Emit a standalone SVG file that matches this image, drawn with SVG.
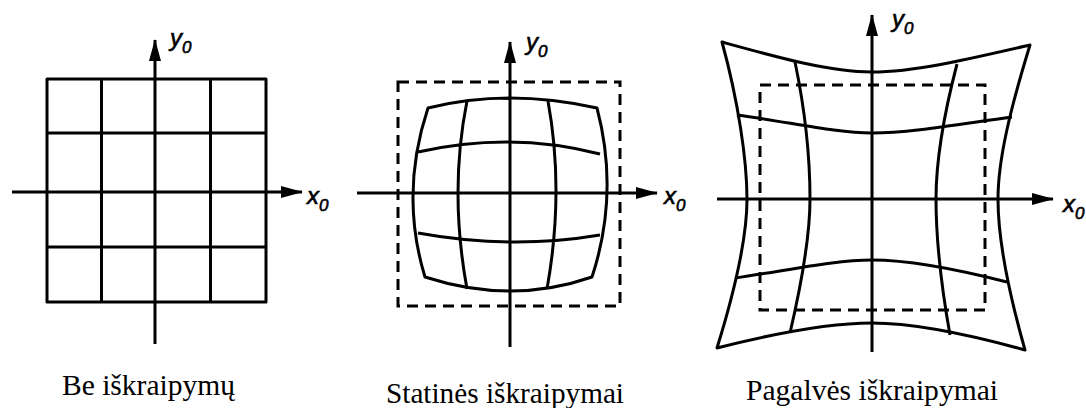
<svg xmlns="http://www.w3.org/2000/svg" width="1086" height="408" viewBox="0 0 1086 408">
<defs>
<marker id="arr" markerUnits="userSpaceOnUse" markerWidth="22" markerHeight="12" refX="21" refY="6" orient="auto">
<path d="M0,0 L22,6 L0,12 Z" fill="#000"/>
</marker>
<style>
.g{fill:none;stroke:#000;stroke-width:3;stroke-linejoin:round}
.ax{fill:none;stroke:#000;stroke-width:3;marker-end:url(#arr)}
.d{fill:none;stroke:#000;stroke-width:3;stroke-dasharray:11 7}
.lab{font-style:italic;font-size:24px;fill:#000;stroke:#000;stroke-width:0.6}
.sub{font-size:17px}
.cap{font-size:30px;fill:#000}
</style>
</defs>
<rect width="1086" height="408" fill="#fff"/>

<g id="panel1">
<rect class="g" x="47" y="79" width="219" height="223"/>
<path class="g" d="M101.5,79 V302 M210.5,79 V302 M47,133 H266 M47,247 H266"/>
</g>

<g id="panel2">
<rect class="d" x="398" y="82" width="222" height="224"/>
<path class="g" d="M428,108 Q507.5,88 597,108 Q619.5,193.5 592,277 Q511.5,305 425,277 Q399.5,193.5 428,108 Z"/>
<path class="g" d="M467,101 Q449,191 467,289 M548,101 Q564.5,191.5 547,289 M418,152 Q511,131 600,154 M418,233 Q511,250 600,235"/>
</g>

<g id="panel3">
<rect class="d" x="760" y="85" width="225" height="225"/>
<path class="g" d="M722,42 C780,58 830,72 872,72 C914,72 965,60 1030,45 C1010,110 998,160 998,199 C998,240 1008,290 1025,350 C960,332 910,323 872,323 C834,323 780,332 717,348 C735,290 747,240 747,199 C747,160 738,100 722,42 Z"/>
<path class="g" d="M795,62 C805,110 810,160 810,199 C810,240 800,290 790,333 M957,64 C945,110 936,160 936,199 C936,240 942,290 950,335 M737,115 C790,122 835,133 872,133 C910,133 960,124 1012,117 M735,278 C790,270 835,260 872,260 C910,260 960,270 1007,282"/>
</g>

<g id="connectors">
<line class="ax" x1="12" y1="192" x2="302" y2="192"/>
<line class="ax" x1="155" y1="344" x2="155" y2="40"/>
<line class="ax" x1="357" y1="193" x2="657" y2="193"/>
<line class="ax" x1="510" y1="347" x2="510" y2="42"/>
<line class="ax" x1="717" y1="199" x2="1053" y2="199"/>
<line class="ax" x1="872" y1="352" x2="872" y2="15"/>
</g>

<g id="labels" font-family="'Liberation Sans', Arial, sans-serif">
<text class="lab" x="170" y="46">y<tspan class="sub" dy="7">0</tspan></text>
<text class="lab" x="307" y="204">x<tspan class="sub" dy="7">0</tspan></text>
<text class="lab" x="526" y="50">y<tspan class="sub" dy="7">0</tspan></text>
<text class="lab" x="664" y="204">x<tspan class="sub" dy="7">0</tspan></text>
<text class="lab" x="892" y="27">y<tspan class="sub" dy="7">0</tspan></text>
<text class="lab" x="1063" y="212">x<tspan class="sub" dy="7">0</tspan></text>
</g>
<g id="captions" font-family="'Liberation Serif', 'Times New Roman', serif">
<text class="cap" x="62" y="395" textLength="173" lengthAdjust="spacingAndGlyphs">Be iškraipymų</text>
<text class="cap" x="386" y="403" textLength="238" lengthAdjust="spacingAndGlyphs">Statinės iškraipymai</text>
<text class="cap" x="746" y="400" textLength="252" lengthAdjust="spacingAndGlyphs">Pagalvės iškraipymai</text>
</g>
</svg>
